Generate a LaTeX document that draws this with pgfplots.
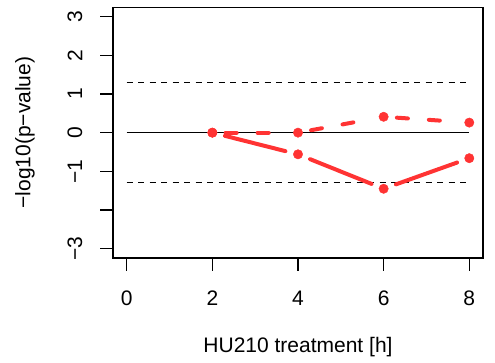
\documentclass[border=0pt]{standalone}
\usepackage{fontspec}
\setmainfont{Liberation Sans}
\usepackage{pgfplots}
\pgfplotsset{compat=1.18}
\definecolor{rred}{HTML}{FF3333}
\begin{document}
\fontsize{21}{25}\selectfont
\begin{tikzpicture}
\begin{axis}[
  scale only axis, width=370pt, height=250.7pt,
  xmin=-0.32, xmax=8.32, ymin=-3.24, ymax=3.24,
  axis line style={line width=1.1pt},
  tick style={black, line width=1.1pt},
  tick align=outside, major tick length=12.5pt,
  xtick={0,2,4,6,8}, xticklabels={0,2,4,6,8},
  ytick={-3,-2,-1,0,1,2,3}, yticklabels={−3,,−1,0,1,2,3},
  xtick pos=bottom, ytick pos=left,
  xticklabel style={anchor=center, yshift=-27.5pt},
  yticklabel style={rotate=90, anchor=center, yshift=25.5pt},
  xlabel={HU210 treatment [h]},
  ylabel={−log10(p−value)},
  xlabel style={at={(axis description cs:0.5,0)}, anchor=center, yshift=-88.7pt},
  ylabel style={at={(axis description cs:0,0.5)}, anchor=center, yshift=88pt},
  clip=false,
]
\coordinate (o) at (rel axis cs:0,0);
\addplot[black, line width=1pt] coordinates {(0,0) (8,0)};
\addplot[black, line width=1pt, dash pattern=on 6pt off 5.5pt] coordinates {(0,1.301) (8,1.301)};
\addplot[black, line width=1pt, dash pattern=on 6pt off 5.5pt] coordinates {(0,-1.301) (8,-1.301)};
% solid series
\addplot[rred, line width=4pt, line cap=round, shorten <=13pt, shorten >=13pt] coordinates {(2,0) (4,-0.56)};
\addplot[rred, line width=4pt, line cap=round, shorten <=13pt, shorten >=13pt] coordinates {(4,-0.56) (6,-1.45)};
\addplot[rred, line width=4pt, line cap=round, shorten <=13pt, shorten >=13pt] coordinates {(6,-1.45) (8,-0.66)};
\addplot[rred, only marks, mark=*, mark size=4.7pt] coordinates {(2,0) (4,-0.56) (6,-1.45) (8,-0.66)};
% dashed series
\addplot[rred, line width=4pt, line cap=round, dash pattern=on 11pt off 21pt, shorten <=13.3pt, shorten >=13.3pt] coordinates {(2,0) (4,0)};
\addplot[rred, line width=4pt, line cap=round, dash pattern=on 11pt off 21pt, shorten <=13.3pt, shorten >=13.3pt] coordinates {(4,0) (6,0.41)};
\addplot[rred, line width=4pt, line cap=round, dash pattern=on 11pt off 21pt, shorten <=13.3pt, shorten >=13.3pt] coordinates {(6,0.41) (8,0.26)};
\addplot[rred, only marks, mark=*, mark size=4.7pt] coordinates {(2,0) (4,0) (6,0.41) (8,0.26)};
\end{axis}
\pgfresetboundingbox
\path ([shift={(-113pt,-104pt)}]o) rectangle ([shift={(382pt,258pt)}]o);
\end{tikzpicture}
\end{document}
